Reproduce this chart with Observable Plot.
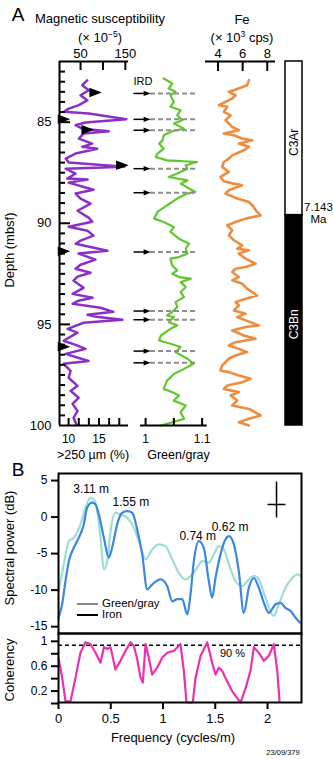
<!DOCTYPE html>
<html><head><meta charset="utf-8">
<script src="https://cdn.jsdelivr.net/npm/d3@7"></script>
<script src="https://cdn.jsdelivr.net/npm/@observablehq/plot@0.6"></script>
<style>
body{margin:0;background:white;}
#chart{position:relative;width:333px;height:759px;overflow:hidden;background:white;font-family:'Liberation Sans',Arial,Helvetica,sans-serif;}
.lbl{position:absolute;white-space:nowrap;line-height:1;color:black;}
.lbl sup{font-size:0.65em;vertical-align:0.5em;line-height:0;}
</style></head><body><div id="chart"></div>
<script>
// ---------------- DATA ----------------
// Panel A: magnetic susceptibility (x10^-5) vs depth (mbsf)
const magDepth = [82.93,83.17,83.42,83.67,83.92,84.16,84.33,84.49,84.57,84.86,85.02,85.15,85.32,85.45,85.56,85.81,86.06,86.22,86.31,86.55,86.80,87.00,87.20,87.30,87.54,87.79,87.84,87.99,88.34,88.53,88.78,89.03,89.38,89.72,89.92,90.17,90.37,90.61,90.86,91.01,91.36,91.50,91.80,92.05,92.25,92.45,92.64,92.84,93.19,93.49,93.68,93.83,93.98,94.18,94.38,94.52,94.62,94.77,94.92,95.22,95.41,95.81,96.01,96.21,96.46,96.81,96.95,97.30,97.64,98.04,98.29,98.63,98.93,99.28,99.62,99.97];
const magValue = [64.9,53.8,68.4,50,64.9,46.2,24,12.9,68.4,152,61.1,38.9,53.8,112.9,57.3,46.2,76,53.8,87.1,38.9,16.7,24,147.8,16.7,38.9,20.4,65.6,23.3,78.9,38.9,50,72.2,43.3,67.8,76,23.3,65.6,78.9,50,38.9,110,45.6,83.3,50,38.9,72.2,43.3,34.4,56.7,32.2,76.7,45.6,32.2,94.4,123.3,65.6,85.6,143.3,56.7,21.1,43.3,12.2,38.9,61.1,16.7,67.8,12.2,27.8,23.3,43.3,27.8,45.6,32.2,43.3,34.4,41.1];
// >250 um (%) coarse fraction (triangles)
const coarseDepth = [83.53,84.85,85.37,87.13,91.38,96.11];
const coarsePct = [14.4,9.2,13.1,18.8,9.2,9.2];
// IRD events (arrows)
const irdDepth = [83.58,84.86,85.40,87.30,88.49,91.42,94.34,94.77,96.32,96.90];
// Green/gray ratio
const greenDepth = [82.84,83.09,83.34,83.50,83.67,84.00,84.24,84.41,84.66,84.91,85.07,85.32,85.45,85.65,85.90,86.06,86.31,86.55,86.72,86.89,86.97,87.13,87.30,87.54,87.71,87.88,88.04,88.45,88.53,88.78,89.11,89.44,89.77,89.94,90.18,90.43,90.76,91.01,91.26,91.50,91.67,91.75,92.08,92.33,92.50,92.66,92.74,92.91,93.15,93.40,93.65,93.90,94.14,94.39,94.56,94.64,94.89,95.05,95.22,95.55,95.80,95.96,96.12,96.37,96.70,96.95,97.20,97.45,97.78,98.19,98.35,98.52,98.77,99.01,99.34,99.67,100];
const greenValue = [1.032,1.047,1.041,1.053,1.044,1.050,1.044,1.062,1.056,1.065,1.050,1.068,1.047,1.032,1.030,1.024,1.032,1.021,1.018,1.038,1.091,1.071,1.074,1.056,1.041,1.074,1.062,1.088,1.074,1.056,1.038,1.021,1.015,1.032,1.050,1.044,1.059,1.077,1.071,1.074,1.059,1.044,1.047,1.056,1.047,1.059,1.080,1.062,1.071,1.062,1.068,1.053,1.056,1.047,1.038,1.050,1.041,1.056,1.044,1.027,1.024,1.044,1.062,1.053,1.074,1.085,1.068,1.050,1.038,1.032,1.047,1.059,1.050,1.071,1.062,1.068,1.027];
// Fe (x10^3 cps)
const feDepth = [82.92,83.17,83.42,83.50,83.67,83.83,84.16,84.24,84.49,84.66,84.90,85.23,85.40,85.56,85.65,85.81,85.89,86.06,86.22,86.39,86.64,86.80,86.97,87.21,87.46,87.71,87.92,88.04,88.12,88.37,88.53,88.78,88.95,89.11,89.44,89.61,89.77,89.94,90.10,90.35,90.60,90.84,91.09,91.26,91.34,91.50,91.75,92.00,92.16,92.25,92.41,92.66,92.82,92.99,93.24,93.57,93.73,93.90,94.06,94.31,94.47,94.64,95.05,95.13,95.30,95.55,95.71,95.88,96.04,96.21,96.37,96.54,96.70,97.03,97.28,97.36,97.53,97.69,97.86,98.02,98.19,98.35,98.52,98.77,99.01,99.18,99.50,99.67,99.84,100];
const feValue = [6.51,6.37,5.29,4.88,5.42,5.15,4.07,4.75,4.47,5.02,4.61,5.15,5.69,4.47,5.29,5.96,6.78,5.69,6.51,6.10,5.15,4.88,4.47,4.34,4.88,4.20,4.47,5.29,5.96,4.88,4.61,5.56,6.51,6.78,7.18,7.46,6.24,5.42,4.75,5.15,4.88,5.29,5.96,5.56,6.51,5.69,6.24,7.05,6.24,5.42,5.15,5.69,5.15,5.96,6.37,7.18,6.24,5.42,5.69,5.29,6.24,5.56,7.32,6.24,5.15,6.10,7.05,5.42,4.88,5.69,6.37,5.42,4.88,4.34,4.20,4.88,5.69,6.64,5.96,4.75,4.47,5.69,5.02,5.56,5.15,6.51,7.46,6.51,5.69,6.51];
// Polarity chrons
const chronNames = ["C3Ar","C3Bn"];
const chronTop = [82, 89.6];
const chronBase = [89.6, 100];
const chronNormal = [false, true];
const boundaryAge = "7.143";
// Panel B: spectra
const ironFreq = [0,0.035,0.067,0.099,0.146,0.194,0.242,0.274,0.322,0.354,0.386,0.434,0.482,0.513,0.561,0.609,0.657,0.705,0.753,0.801,0.849,0.896,0.976,1.04,1.088,1.136,1.184,1.232,1.263,1.295,1.343,1.39,1.438,1.47,1.502,1.55,1.598,1.63,1.678,1.725,1.773,1.821,1.869,1.917,1.965,2.012,2.077,2.124,2.172,2.22,2.268,2.31];
const ironDb = [-13.65,-11.8,-8.6,-5.9,-4.07,-2.7,-0.87,1.41,2.1,1.87,0.5,-2.7,-5.4,-4.07,-0.87,0.73,0.96,0.73,-1.55,-4.97,-9.77,-9.1,-8.4,-9.3,-11.4,-11.1,-11.1,-13.2,-10.45,-5.9,-3.15,-4.07,-8.6,-10.9,-8.2,-4.97,-2.9,-2.47,-3.6,-7.26,-12.97,-9.55,-8.2,-9.55,-11.6,-12.97,-11.8,-11.6,-12.3,-12.7,-13.65,-14.3];
const ggFreq = [0,0.051,0.099,0.146,0.21,0.258,0.306,0.338,0.37,0.402,0.434,0.466,0.498,0.545,0.593,0.657,0.721,0.785,0.833,0.896,0.96,1.024,1.088,1.151,1.215,1.279,1.327,1.375,1.438,1.486,1.534,1.582,1.63,1.694,1.758,1.821,1.869,1.917,1.98,2.06,2.108,2.172,2.236,2.284,2.316];
const ggDb = [-10,-6.3,-3.15,-2.7,-0.87,1.41,2.78,2.56,0.96,-2.7,-7.03,-5.9,-1.78,0.73,0.5,0.04,-1.33,-3.84,-5.66,-4.29,-3.6,-3.84,-5.66,-7.49,-8.4,-7.7,-6.8,-5.9,-6.1,-4.97,-3.84,-4.29,-6.3,-8.63,-9.3,-8.4,-7.9,-8.4,-10.9,-13.4,-11.8,-9.55,-8.2,-7.7,-7.9];
const cohFreq = [0,0.035,0.067,0.115,0.163,0.21,0.258,0.306,0.354,0.402,0.434,0.466,0.498,0.545,0.593,0.641,0.689,0.721,0.753,0.785,0.807,0.833,0.864,0.896,0.944,0.992,1.04,1.103,1.167,1.199,1.225,1.285,1.311,1.359,1.423,1.47,1.502,1.534,1.566,1.614,1.662,1.71,1.742,1.79,1.837,1.869,1.917,1.965,2.012,2.06,2.093,2.115];
const cohValue = [0.72,0.40,0.02,0.02,0.40,0.80,0.97,0.94,0.80,0.64,0.89,0.86,0.89,0.53,0.67,0.83,0.97,0.91,0.70,0.40,0.32,0.94,0.72,0.45,0.56,0.72,0.80,0.83,0.94,0.51,0,0,0.40,0.75,0.97,0.64,0.45,0.56,0.51,0.34,0.18,0.07,0,0.23,0.51,0.89,0.80,0.67,0.75,0.94,0.51,0.02];
const coh90 = 0.92;
const peakPeriods = [3.11, 1.55, 0.74, 0.62];
const bandwidth = 0.172, ciDb = 5;

// ---------------- STYLE ----------------
const FONT = "'Liberation Sans', Arial, Helvetica, sans-serif";
const PURPLE="#8b2fc9", GREEN="#62c62e", ORANGE="#ef8c3d", BLUE="#3a88df", CYAN="#9edcd5", MAGENTA="#ee2fb2";
const chart = document.getElementById("chart");
const STYLE = `background:transparent;font-family:${FONT};font-size:13px;overflow:visible;position:absolute;left:0;top:0;`;
function add(opts){ const svg = Plot.plot({width:333, height:759, style:STYLE, ...opts}); chart.append(svg); return svg; }
function label(html, x, y, o={}){
  const el=document.createElement("div"); el.className="lbl"; el.innerHTML=html;
  el.style.fontSize=(o.size||13)+"px"; el.style.left=x+"px"; el.style.top=y+"px";
  el.style.transform=`translate(${o.anchor==="start"?"0":"-50%"},-50%)`+(o.rotate?` rotate(${o.rotate}deg)`:"");
  if(o.color) el.style.color=o.color;
  chart.append(el);
}
function hline(x,y,w,color){const el=document.createElement("div");el.style.cssText=`position:absolute;left:${x}px;top:${y-1}px;width:${w}px;height:2px;background:${color}`;chart.append(el);}

const zip=(a,b,ka,kb)=>a.map((v,i)=>({[ka]:v,[kb]:b[i]}));
const mag=zip(magDepth,magValue,"d","v");
const coarse=zip(coarseDepth,coarsePct,"d","p");
const green=zip(greenDepth,greenValue,"d","g");
const fe=zip(feDepth,feValue,"d","v");
const iron=zip(ironFreq,ironDb,"f","db");
const gg=zip(ggFreq,ggDb,"f","db");
const coh=zip(cohFreq,cohValue,"f","c");

const triRight={draw(ctx,size){const r=Math.sqrt(size/Math.PI);ctx.moveTo(1.3*r,0);ctx.lineTo(-1.2*r,-0.95*r);ctx.lineTo(-1.2*r,0.95*r);ctx.closePath();}};

const A = {marginTop:61, marginBottom:334};
const H = 759-61-334;
const Y = {domain:[82,100], reverse:true};

// Magnetic susceptibility track
add({...A, marginLeft:59, marginRight:205,
  x:{domain:[3,157]}, y:Y,
  marks:[
    Plot.line(mag,{x:"v",y:"d",stroke:PURPLE,strokeWidth:2.5,strokeLinejoin:"round"}),
    Plot.axisX([50,150],{anchor:"top",tickSize:0,tickPadding:4,label:null}),
    Plot.ruleX([50,100,150],{insetBottom:H-9,strokeWidth:2}),
    Plot.axisY([85,90,95,100],{anchor:"left",tickSize:0,tickPadding:8,label:null}),
    Plot.ruleY(d3.range(82.5,100,0.5).filter(d=>d%5!==0),{insetRight:69-6,strokeWidth:2}),
    Plot.ruleY([85,90,95],{insetRight:69-11,strokeWidth:2}),
    Plot.ruleX([3],{strokeWidth:2}),
    Plot.ruleY([82,100],{strokeWidth:2})
  ]});
// >250 um (%) coarse fraction
add({...A, marginLeft:59, marginRight:205,
  x:{domain:[8.5,19.85]}, y:{...Y, axis:null},
  marks:[
    Plot.axisX([10,15],{anchor:"bottom",tickSize:0,tickPadding:9,fontSize:12,label:null}),
    Plot.ruleX([10,35/3,40/3,15,50/3,55/3],{insetTop:H-7,strokeWidth:2}),
    Plot.dot(coarse,{x:"p",y:"d",symbol:triRight,r:5,fill:"black",stroke:"none"})
  ]});
// Green/gray track
const gx = px => 0.991 + (px-140)*(0.118/66.7);
add({...A, marginLeft:140, marginRight:126.3,
  x:{domain:[0.991,1.109]}, y:{...Y, axis:null},
  marks:[
    Plot.line(green,{x:"g",y:"d",stroke:GREEN,strokeWidth:2.2,strokeLinejoin:"round"}),
    Plot.ruleY(irdDepth,{x1:()=>gx(150),x2:()=>gx(197),stroke:"#8f8f8f",strokeWidth:2,strokeDasharray:"5,3"}),
    Plot.link(irdDepth,{x1:()=>gx(133),x2:()=>gx(146),y1:d=>d,y2:d=>d,stroke:"black",strokeWidth:1.5}),
    Plot.dot(irdDepth,{x:()=>gx(146.5),y:d=>d,symbol:triRight,r:2.8,fill:"black",stroke:"none"}),
    Plot.text(["IRD"],{x:()=>gx(133),y:()=>82.99,textAnchor:"start",fontSize:11}),
    Plot.axisX([1,1.1],{anchor:"bottom",tickSize:0,tickPadding:9,fontSize:12,label:null,tickFormat:d=>String(d)}),
    Plot.ruleX([1,1.05,1.1],{insetTop:H-7,strokeWidth:2}),
    Plot.ruleY([100],{strokeWidth:2})
  ]});
// Fe track
add({...A, marginLeft:205, marginRight:58,
  x:{domain:[2.98,8.67]}, y:{...Y, axis:null},
  marks:[
    Plot.line(fe,{x:"v",y:"d",stroke:ORANGE,strokeWidth:2.6,strokeLinejoin:"round"}),
    Plot.axisX([4,6,8],{anchor:"top",tickSize:0,tickPadding:4,label:null}),
    Plot.ruleX([4,6,8],{insetBottom:H-10,strokeWidth:2}),
    Plot.ruleY([82],{strokeWidth:2})
  ]});
// Polarity column
const chrons = chronNames.map((n,i)=>({n, top:chronTop[i], base:chronBase[i], normal:chronNormal[i]}));
add({...A, marginLeft:285, marginRight:31,
  x:{domain:[0,1], axis:null}, y:{...Y, axis:null},
  marks:[
    Plot.rect(chrons,{x1:()=>0,x2:()=>1,y1:"top",y2:"base",fill:d=>d.normal?"black":"white",stroke:"black",strokeWidth:1.5}),
    Plot.text(chrons,{x:()=>0.5,y:d=>(d.top+d.base)/2,text:"n",rotate:-90,dy:4,fontSize:12,fill:d=>d.normal?"white":"black"}),
    Plot.text([boundaryAge],{x:()=>1,y:()=>chronBase[0],text:d=>d+"\nMa",dx:16,dy:-2,fontSize:11.5,lineHeight:1.05})
  ]});

// Panel B: spectra
add({marginTop:473, marginBottom:126, marginLeft:58, marginRight:32,
  x:{domain:[0,2.325], axis:null}, y:{domain:[-15.8,6.1]},
  marks:[
    Plot.line(gg,{x:"f",y:"db",stroke:CYAN,strokeWidth:2.2,curve:"monotone-x"}),
    Plot.line(iron,{x:"f",y:"db",stroke:BLUE,strokeWidth:2.2,curve:"monotone-x"}),
    Plot.frame({strokeWidth:2}),
    Plot.axisY([5,0,-5,-10,-15],{anchor:"left",tickSize:7,tickPadding:4,strokeWidth:2,fontSize:12,dy:-1,tickFormat:d=>String(d),label:null}),
    Plot.link([0],{x1:()=>2.0+bandwidth/2,x2:()=>2.0+bandwidth/2,y1:()=>ciDb,y2:()=>0.08,strokeWidth:1.5}),
    Plot.link([0],{x1:()=>2.0,x2:()=>2.0+bandwidth,y1:()=>1.86,y2:()=>1.86,strokeWidth:1.5}),
    ...peakPeriods.map((p,i)=>{
      const near=[...iron,...gg].filter(d=>Math.abs(d.f-1/p)<0.06);
      const top=d3.max(near,d=>d.db);
      return Plot.text([p],{x:d=>1/d,y:()=>top,text:d=>`${d} m`,fontSize:12,dx:[-1,5,-2,3][i],dy:[-9,-9,-5,-9][i]});
    })
  ]});
// Panel B: coherency
add({marginTop:633, marginBottom:57, marginLeft:58, marginRight:32,
  x:{domain:[0,2.325]}, y:{domain:[0,1.11]},
  marks:[
    Plot.ruleY([coh90],{strokeDasharray:"4,3",strokeWidth:1.5}),
    Plot.line(coh,{x:"f",y:"c",stroke:MAGENTA,strokeWidth:2.2}),
    Plot.frame({strokeWidth:2}),
    Plot.axisY([0,0.2,0.4,0.6,0.8,1],{anchor:"left",tickSize:7,tickPadding:4,strokeWidth:2,fontSize:12,dy:1,tickFormat:d=>[0.2,0.6,1].includes(d)?String(d):"",label:null}),
    Plot.axisX([0,0.5,1,1.5,2],{anchor:"bottom",tickSize:7,tickPadding:4,strokeWidth:2,tickFormat:d=>String(d),label:null}),
    Plot.text([coh90],{x:()=>1.665,y:d=>d,text:d=>`${Math.round(d/0.92*90)} %`,dy:8,fontSize:11})
  ]});

// ---------------- TEXT ----------------
label("A",18,14,{size:19});
label("Magnetic susceptibility",100,18);
label("(× 10<sup>−5</sup>)",100,36.5);
label("Fe",242,19);
label("(× 10<sup>3</sup> cps)",242,37);
label("Depth (mbsf)",9,250,{rotate:-90});
label("&gt;250 µm (%)",93,454.5,{size:12.5});
label("Green/gray",178.5,454.5,{size:12.5});
label("B",18,469,{size:19});
label("Spectral power (dB)",9,548,{rotate:-90});
label("Coherency",9,670,{rotate:-90});
label("Frequency (cycles/m)",173,737);
label("23/09/379",283,753,{size:7.5});
hline(77,604,21,"#8a8a8a"); label("Green/gray",102,604,{anchor:"start",size:11.5});
hline(77,615,21,"black"); label("Iron",102,615,{anchor:"start",size:11.5});
</script></body></html>
